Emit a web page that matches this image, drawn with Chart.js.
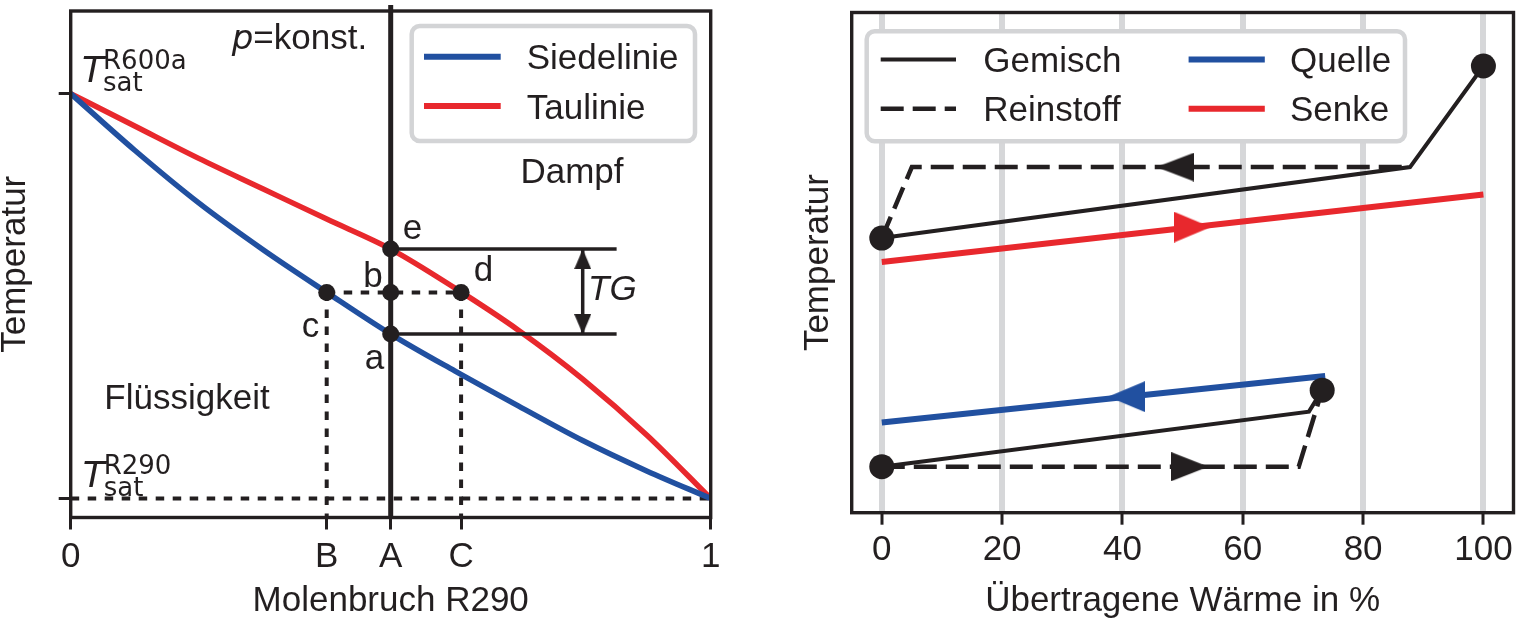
<!DOCTYPE html>
<html>
<head>
<meta charset="utf-8">
<script src="https://cdn.jsdelivr.net/npm/chart.js@4.4.1/dist/chart.umd.min.js"></script>
<style>
html,body{margin:0;padding:0;background:#fff;width:1526px;height:622px;overflow:hidden}
#wl{position:absolute;left:0;top:0;width:760px;height:622px}
#wr{position:absolute;left:760px;top:0;width:766px;height:622px}
canvas{display:block}
</style>
</head>
<body>
<div id="wl"><canvas id="cl" width="760" height="622"></canvas></div>
<div id="wr"><canvas id="cr" width="766" height="622"></canvas></div>
<script>
// ---------------- DATA: left panel (phase diagram) ----------------
const molX   = [0, 0.1, 0.2, 0.3, 0.4, 0.5, 0.6, 0.7, 0.8, 0.9, 1];
const siedeT = [1, 0.86, 0.73, 0.615, 0.509, 0.406, 0.315, 0.228, 0.143, 0.068, 0];
const tauT   = [1, 0.92, 0.84, 0.765, 0.69, 0.616, 0.52, 0.415, 0.295, 0.157, 0];
const molTickValues = [0, 0.4, 0.5, 0.61, 1];
const molTickLabels = ['0', 'B', 'A', 'C', '1'];
const tempTickValues = [0, 1];
const stateNames = ['e', 'b', 'a', 'c', 'd'];
const stateX = [0.5, 0.5, 0.5, 0.4, 0.61];
const stateT = [0.616, 0.509, 0.406, 0.509, 0.509];
const glideEndX = 0.853;
const tgX = 0.8;
const legendLeft = ['Siedelinie', 'Taulinie'];

// ---------------- DATA: right panel (heat transfer) ----------------
const heatTicks = [0, 20, 40, 60, 80, 100];
const senkeQ = [0, 100];          const senkeT = [50.1, 63.6];
const quelleQ = [0, 73.7];        const quelleT = [18.05, 27.35];
const gemischHighQ = [0, 87.8, 100];  const gemischHighT = [54.9, 69.1, 89.3];
const reinHighQ = [0, 5.0, 87.8];     const reinHighT = [54.9, 69.1, 69.1];
const gemischLowQ = [0, 71.0, 73.2];  const gemischLowT = [9.2, 20.2, 24.5];
const reinLowQ = [0, 69.3, 73.2];     const reinLowT = [9.2, 9.2, 24.5];
const endQ = [0, 100, 0, 73.2];       const endT = [54.9, 89.3, 9.2, 24.5];
const arrowQ = [51.6, 40.7, 48.8, 51.2];
const arrowT = [57.1, 23.2, 69.1, 9.2];
const legendRight = ['Gemisch', 'Reinstoff', 'Quelle', 'Senke'];

// ---------------- STYLE ----------------
const BLACK = '#231f20', BLUE = '#2150a0', RED = '#e8282d', GRID = '#d6d7d9', EDGE = '#d3d4d6';
const SANS = '"Liberation Sans", Arial, sans-serif';
const DEJA = '"DejaVu Sans", sans-serif';
const FS = 35;
Chart.defaults.font.family = SANS;
Chart.defaults.font.size = FS;
Chart.defaults.color = BLACK;
Chart.defaults.animation = false;

const pts = (xs, ys) => xs.map((x, i) => ({x: x, y: ys[i]}));

function tri(color, dir, len, wid, tipCenter) {
  const L = tipCenter ? 2 * len : len;
  const horiz = (dir === 'left' || dir === 'right');
  const c = document.createElement('canvas');
  c.width = Math.round(horiz ? L : wid);
  c.height = Math.round(horiz ? wid : L);
  const g = c.getContext('2d');
  g.fillStyle = color;
  g.beginPath();
  const W = c.width, H = c.height;
  if (dir === 'right') { g.moveTo(len, H / 2); g.lineTo(0, 0); g.lineTo(0, H); }
  if (dir === 'left')  { g.moveTo(W - len, H / 2); g.lineTo(W, 0); g.lineTo(W, H); }
  if (dir === 'up')    { g.moveTo(W / 2, H - len); g.lineTo(0, H); g.lineTo(W, H); }
  if (dir === 'down')  { g.moveTo(W / 2, len); g.lineTo(0, 0); g.lineTo(W, 0); }
  g.closePath(); g.fill();
  return c;
}

function roundRect(ctx, x, y, w, h, r) {
  ctx.beginPath();
  ctx.moveTo(x + r, y);
  ctx.arcTo(x + w, y, x + w, y + h, r);
  ctx.arcTo(x + w, y + h, x, y + h, r);
  ctx.arcTo(x, y + h, x, y, r);
  ctx.arcTo(x, y, x + w, y, r);
  ctx.closePath();
}
function legendBox(ctx, x, y, w, h) {
  ctx.save(); roundRect(ctx, x, y, w, h, 8);
  ctx.fillStyle = '#fff'; ctx.fill();
  ctx.lineWidth = 4.5; ctx.strokeStyle = EDGE; ctx.stroke(); ctx.restore();
}
function legendItem(ctx, x0, x1, y, tx, color, lw, dash, label) {
  ctx.save();
  ctx.strokeStyle = color; ctx.lineWidth = lw; ctx.setLineDash(dash || []);
  ctx.beginPath(); ctx.moveTo(x0, y); ctx.lineTo(x1, y); ctx.stroke();
  ctx.setLineDash([]);
  ctx.fillStyle = BLACK; ctx.font = FS + 'px ' + SANS;
  ctx.textAlign = 'left'; ctx.textBaseline = 'alphabetic';
  ctx.fillText(label, tx, y + 12.5);
  ctx.restore();
}

const framePlugin = {
  id: 'frame',
  afterDatasetsDraw(chart) {
    const {ctx, chartArea: a} = chart;
    ctx.save(); ctx.strokeStyle = BLACK; ctx.lineWidth = 3.4;
    ctx.strokeRect(a.left, a.top, a.right - a.left, a.bottom - a.top);
    ctx.restore();
  }
};

function lineDS(label, xs, ys, color, width, dash, order, clip, smooth) {
  const d = {label: label, data: pts(xs, ys), showLine: true, borderColor: color, backgroundColor: color,
    borderWidth: width, pointRadius: 0, pointHoverRadius: 0, borderDash: dash || [], order: order, fill: false};
  if (clip !== undefined && clip !== null) d.clip = clip;
  if (smooth) d.cubicInterpolationMode = 'monotone';
  return d;
}

// ---------------- LEFT CHART ----------------
const leftText = {
  id: 'leftText',
  afterDatasetsDraw(chart) {
    const {ctx} = chart;
    const xs = chart.scales.x, ys = chart.scales.y;
    const X = v => xs.getPixelForValue(v), Y = v => ys.getPixelForValue(v);
    ctx.save();
    ctx.fillStyle = BLACK;
    ctx.textBaseline = 'alphabetic';
    const lab = [['e', 0.534, 0.6406], ['b', 0.4724, 0.5232], ['d', 0.645, 0.538], ['c', 0.3747, 0.3985], ['a', 0.4747, 0.3202]];
    ctx.font = FS + 'px ' + SANS; ctx.textAlign = 'center';
    lab.forEach(l => ctx.fillText(l[0], X(l[1]), Y(l[2])));
    ctx.fillText('Dampf', X(0.7833), Y(0.7793));
    ctx.fillText('Flüssigkeit', X(0.1817), Y(0.2209));
    ctx.textAlign = 'left';
    ctx.font = 'italic ' + FS + 'px ' + SANS;
    ctx.fillText('TG', X(0.8083), Y(0.4906));
    let px = X(0.2516), py = Y(1.111);
    ctx.font = 'oblique 34px ' + DEJA;
    ctx.fillText('p', px, py);
    px += ctx.measureText('p').width;
    ctx.font = FS + 'px ' + SANS;
    ctx.fillText('=konst.', px, py);
    const tsat = (x, y, sup) => {
      const tx = X(x), ty = Y(y);
      ctx.font = 'oblique 36px ' + DEJA;
      ctx.fillText('T', tx, ty);
      ctx.font = '26px ' + DEJA;
      ctx.fillText(sup, tx + 21, ty - 13);
      ctx.fillText('sat', tx + 21, ty + 9);
    };
    tsat(0.0177, 1.0275, 'R600a');
    tsat(0.0187, 0.0282, 'R290');
    const a = chart.chartArea;
    const bx = a.right - 15.7 - 283.3, by = a.top + 15;
    legendBox(ctx, bx, by, 283.3, 115);
    const dsets = chart.data.datasets;
    legendItem(ctx, bx + 12.3, bx + 89, by + 30.7, bx + 115, dsets[0].borderColor, 6, [], legendLeft[0]);
    legendItem(ctx, bx + 12.3, bx + 89, by + 80, bx + 115, dsets[1].borderColor, 6, [], legendLeft[1]);
    ctx.restore();
  }
};

const tgUp = tri(BLACK, 'up', 20, 17, true);
const tgDown = tri(BLACK, 'down', 20, 17, true);

new Chart(document.getElementById('cl'), {
  type: 'scatter',
  data: {
    datasets: [
      lineDS(legendLeft[0], molX, siedeT, BLUE, 5.5, [], 5, null, true),
      lineDS(legendLeft[1], molX, tauT, RED, 5.5, [], 5, null, true),
      lineDS('A', [stateX[0], stateX[0]], [-0.2, 1.4], BLACK, 5, [], 4, {left: 0, right: 0, top: 6, bottom: 0}),
      lineDS('eLine', [stateX[0], glideEndX], [stateT[0], stateT[0]], BLACK, 3.5, [], 4),
      lineDS('aLine', [stateX[2], glideEndX], [stateT[2], stateT[2]], BLACK, 3.5, [], 4),
      lineDS('cd', [stateX[3], stateX[4]], [stateT[3], stateT[4]], BLACK, 4, [8.5, 8.5], 6),
      lineDS('B', [stateX[3], stateX[3]], [stateT[3], -0.3], BLACK, 4, [8.5, 8.5], 6),
      lineDS('C', [stateX[4], stateX[4]], [stateT[4], -0.3], BLACK, 4, [8.5, 8.5], 6),
      lineDS('T290', [molX[0], molX[molX.length - 1]], [siedeT[siedeT.length - 1], tauT[tauT.length - 1]], BLACK, 4, [8.5, 8.5], 6),
      lineDS('TG', [tgX, tgX], [stateT[2], stateT[0]], BLACK, 3.5, [], 4),
      {label: 'TGheads', data: [{x: tgX, y: stateT[0]}, {x: tgX, y: stateT[2]}], showLine: false,
        pointStyle: [tgUp, tgDown], pointRadius: 10, pointHoverRadius: 10, order: 2, clip: false},
      {label: 'states', data: pts(stateX, stateT), showLine: false, pointRadius: 8.5, pointHoverRadius: 8.5,
        pointBackgroundColor: BLACK, pointBorderColor: BLACK, pointBorderWidth: 0, order: 1}
    ]
  },
  options: {
    responsive: false,
    animation: false,
    events: [],
    layout: {padding: {top: 3.3, right: 49.3, left: 0, bottom: 0}},
    plugins: {legend: {display: false}, tooltip: {enabled: false}},
    scales: {
      x: {
        type: 'linear', min: 0, max: 1,
        afterBuildTicks: s => { s.ticks = molTickValues.map(v => ({value: v})); },
        afterFit: s => { s.height = 104.5; },
        ticks: {autoSkip: false, maxRotation: 0, minRotation: 0, padding: 7, color: BLACK,
          font: {size: FS}, callback: (v, i) => molTickLabels[i]},
        grid: {drawOnChartArea: false, drawTicks: true, tickLength: 12, tickWidth: 3, tickColor: BLACK},
        border: {display: false},
        title: {display: true, text: 'Molenbruch R290', color: BLACK, font: {size: FS}, padding: {top: 0, bottom: 0}}
      },
      y: {
        type: 'linear', min: -0.047, max: 1.204,
        afterBuildTicks: s => { s.ticks = tempTickValues.map(v => ({value: v})); },
        afterFit: s => { s.width = 70.7; },
        ticks: {display: false},
        grid: {drawOnChartArea: false, drawTicks: true, tickLength: 12, tickWidth: 3, tickColor: BLACK},
        border: {display: false},
        title: {display: true, text: 'Temperatur', color: BLACK, font: {size: FS, lineHeight: 0.9}, padding: {top: 0, bottom: 0}}
      }
    }
  },
  plugins: [framePlugin, leftText]
});

// ---------------- RIGHT CHART ----------------
const arrowStyles = [tri(RED, 'right', 37, 31, false), tri(BLUE, 'left', 37, 31, false),
                     tri(BLACK, 'left', 38, 29, false), tri(BLACK, 'right', 37, 29, false)];

const rightLegend = {
  id: 'rightLegend',
  afterDraw(chart) {
    const {ctx} = chart;
    const a = chart.chartArea;
    const bx = a.left + 15, by = a.top + 18.7;
    legendBox(ctx, bx, by, 538.3, 110);
    const d = chart.data.datasets;
    legendItem(ctx, bx + 14, bx + 89.3, by + 28.3, bx + 116.6, BLACK, 4.2, [], legendRight[0]);
    legendItem(ctx, bx + 14, bx + 89.3, by + 77.6, bx + 116.6, BLACK, 4.5, [23, 9], legendRight[1]);
    legendItem(ctx, bx + 321.9, bx + 398.1, by + 28.3, bx + 423.3, d[1].borderColor, 6, [], legendRight[2]);
    legendItem(ctx, bx + 321.9, bx + 398.1, by + 77.6, bx + 423.3, d[0].borderColor, 6, [], legendRight[3]);
  }
};

new Chart(document.getElementById('cr'), {
  type: 'scatter',
  data: {
    datasets: [
      lineDS(legendRight[3], senkeQ, senkeT, RED, 6, [], 6),
      lineDS(legendRight[2], quelleQ, quelleT, BLUE, 6, [], 6),
      lineDS(legendRight[0], gemischHighQ, gemischHighT, BLACK, 4, [], 5),
      lineDS(legendRight[0] + ' low', gemischLowQ, gemischLowT, BLACK, 4, [], 5),
      lineDS(legendRight[1], reinHighQ, reinHighT, BLACK, 4.5, [23, 9], 5),
      lineDS(legendRight[1] + ' low', reinLowQ, reinLowT, BLACK, 4.5, [23, 9], 5),
      {label: 'arrows', data: pts(arrowQ, arrowT), showLine: false, pointStyle: arrowStyles,
        pointRadius: 10, pointHoverRadius: 10, order: 2},
      {label: 'ends', data: pts(endQ, endT), showLine: false, pointRadius: 12.5, pointHoverRadius: 12.5,
        pointBackgroundColor: BLACK, pointBorderColor: BLACK, pointBorderWidth: 0, order: 1, clip: false}
    ]
  },
  options: {
    responsive: false,
    animation: false,
    events: [],
    layout: {padding: {top: 3, right: 2.7, left: 0, bottom: 0}},
    plugins: {legend: {display: false}, tooltip: {enabled: false}},
    scales: {
      x: {
        type: 'linear', min: -5, max: 105,
        afterBuildTicks: s => { s.ticks = heatTicks.map(v => ({value: v})); },
        afterFit: s => { s.height = 109.3; },
        ticks: {autoSkip: false, maxRotation: 0, minRotation: 0, padding: 5, color: BLACK, font: {size: FS}},
        grid: {drawOnChartArea: true, color: GRID, lineWidth: 6, drawTicks: true, tickLength: 12, tickWidth: 3, tickColor: BLACK},
        border: {display: false},
        title: {display: true, text: 'Übertragene Wärme in %', color: BLACK, font: {size: FS}, padding: {top: 0, bottom: 0}}
      },
      y: {
        type: 'linear', min: 0, max: 100,
        afterFit: s => { s.width = 91.7; },
        ticks: {display: false},
        grid: {display: false},
        border: {display: false},
        title: {display: true, text: 'Temperatur', color: BLACK, font: {size: FS, lineHeight: 0.9}, padding: {top: 42.7, bottom: 0}}
      }
    }
  },
  plugins: [framePlugin, rightLegend]
});
</script>
</body>
</html>
